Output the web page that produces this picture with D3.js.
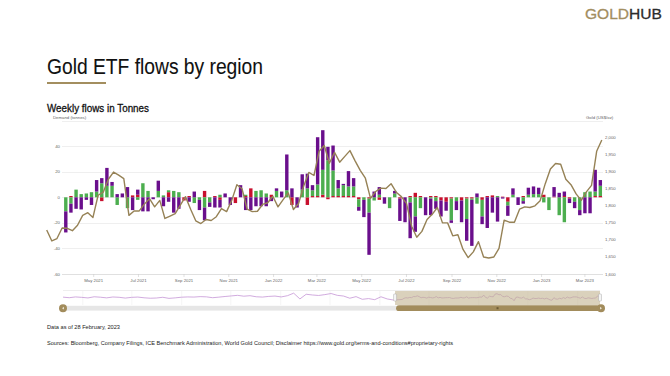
<!DOCTYPE html>
<html><head><meta charset="utf-8">
<script src="https://cdn.jsdelivr.net/npm/d3@7"></script>
<style>body{margin:0;background:#fff}svg{display:block}text{font-family:"Liberation Sans",Arial,sans-serif}</style>
</head><body>
<svg id="c" width="670" height="376"></svg>
<script>
// ---- data (weekly ETF flows, tonnes) ----
const northAmerica = [-16.5,-7,-9,-9.5,-2,-6,9,4,14,3, 2.5,3,8,-10,4,-11,-11,-1.5,8,-7, -3.5,-12,-9,0,-3.5,4.5,-8,-10,-3.5,-8, -6,3,-6,0,9.5,-10,-10,-7,-7,-7, -3,2,4.5,28,7,-8,12,11.5,4,37, 31,10.5,19.5,6.5,1,12,6.5,-3,-13.5,-33, 4.5,6,-5,0,2,-17.5,-19.5,-28,-12,0, -14,-13,-6,-12.5,-7,-2,-7,-17,-17,-36, 3,-6,-24,-12,-19,-1,-8,5,-6,-2, 5.5,6,5,0,0,7.5,3.5,3.5,-3.5,-5, -4,-12.5,-12.5,17,4.5];
const europe = [-11,-5,6,2.5,3,4,4.5,11,9,9, -6,0,-8.5,0,-2,11,5,0,5,1.5, 1.5,5,4,0,0,-4.5,-2,-8,-4,0, 2,0,0,0,0,1,0,5,5.5,3, 0,5,0,5.5,0,0,6,7,4.5,9, 19.5,29,20,6,8.5,7.5,7.5,-6,-2,-11, -2.5,2,0,-8.5,3,0,0,-4,-15,-8.5, 0,-1,-3,0,0,-17,-3,0,-16,-1, -5,-13,0,0,1,0,-3,2,0,-3, 2,2.5,2.5,-4,-10,0,-14,-19.5,0,-3.5, -10,4,4.5,3.5,8];
const asia = [0,1,0,0,0,0,0,-3,0,0, 0,0,0,1.5,2,0,0,0,0,0, 4,0,0,-2.5,1,0,0,5,0,1, -2,0,0,-4.5,0,1,7,0,0,0, 2,0,0,0,-6,0,0,-6,1,1, 2,-1.5,1,1,1,1,1,-1.5,0,-1, 0,-2,0,0,0,-1,0,1,3.5,1, 0,1,1,-2.5,-3.5,-1,0,-2.5,-1,-1, 0,-2,1,1.5,0,0.5,-3.5,0,0,1, 0,0,0,2,0,0.5,0,1,-1,0, 0,0,0,1,1];
// gold price, US$/oz, weekly from 26 Feb 2021
const goldPrice = [1729,1697,1704,1735,1734,1727,1743,1772,1780,1766, 1831,1840,1878,1899,1890,1880,1772,1785,1785,1805, 1821,1797,1816,1763,1770,1777,1802,1827,1790,1756, 1748,1760,1757,1768,1792,1783,1816,1862,1850,1790, 1783,1784,1804,1809,1828,1797,1818,1838,1789,1807, 1858,1898,1889,1960,1977,1925,1957,1928,1945,1962, 1932,1904,1881,1822,1842,1852,1851,1865,1840,1827, 1807,1740,1708,1725,1760,1775,1795,1750,1750,1712, 1715,1672,1648,1665,1695,1650,1647,1650,1675,1758, 1752,1752,1790,1797,1795,1800,1815,1865,1908,1924, 1922,1878,1862,1835,1816,1841,1860,1960,1993];
// navigator history (total flows, tonnes) Oct 2017 - Feb 2021
const navHistory = [5,-3,8,2,-6, 10,4,-5,7,3,-8,2,6,-4,-10,-7,3,-12,-5,4,8,6,12, 9,-3,5,14,22,30,18,25,10,6,15,20,8, 25,60,-20,45,35,28,40,55,30,20,-10,12,-25,-15,-30,10, -20,-35];
const leftTicks = [-60,-40,-20,0,20,40];
const gridTicks = [-60,-40,-20,0,20,40,60];
const rightTicks = [1600,1650,1700,1750,1800,1850,1900,1950,2000];
const xTickLabels = ["May 2021","Jul 2021","Sep 2021","Nov 2021","Jan 2022","Mar 2022","May 2022","Jul 2022","Sep 2022","Nov 2022","Jan 2023","Mar 2023"];
const seriesNames = ["Asia","Europe","North America"];
const seriesColors = ["#c8102e","#4cae4f","#6a0f8c"];

const svg = d3.select("#c");
const gold = "#a38e5f";

// header
svg.append("text").attr("x",585).attr("y",19).attr("font-family","Lato, 'Open Sans', sans-serif").attr("font-size",15.5).attr("font-weight",400)
  .attr("stroke-width",0.3).attr("textLength",77).attr("lengthAdjust","spacingAndGlyphs")
  .call(t=>{t.append("tspan").attr("fill",gold).attr("stroke",gold).text("GOLD");t.append("tspan").attr("fill","#2b2b2b").attr("stroke","#2b2b2b").text("HUB");});
svg.append("text").attr("x",47).attr("y",74).attr("font-size",22).attr("fill","#111").attr("stroke","#111").attr("stroke-width",0.1).attr("textLength",216).attr("lengthAdjust","spacingAndGlyphs").text("Gold ETF flows by region");
svg.append("rect").attr("x",47).attr("y",82).attr("width",59).attr("height",2).attr("fill",gold);
svg.append("text").attr("x",47).attr("y",112).attr("font-size",11).attr("fill","#111").attr("stroke","#111").attr("stroke-width",0.3).attr("textLength",102).attr("lengthAdjust","spacingAndGlyphs").text("Weekly flows in Tonnes");
svg.append("text").attr("x",53).attr("y",118.5).attr("font-size",4.3).attr("fill","#666").text("Demand (tonnes)");
svg.append("text").attr("x",586).attr("y",118.5).attr("font-size",4.3).attr("fill","#666").text("Gold (US$/oz)");

// scales
const lineStart = new Date(2021,1,26), barStart = new Date(2021,2,24);
const lineDates = goldPrice.map((_,i)=>d3.timeDay.offset(lineStart,7*i));
const barDates = northAmerica.map((_,i)=>d3.timeDay.offset(barStart,7*i));
const x = d3.scaleTime().domain([lineStart, lineDates[lineDates.length-1]]).range([46.7,601.8]);
const yL = d3.scaleLinear().domain([-60,60]).range([274,120.6]);
const yR = d3.scaleLinear().domain([1600,2050]).range([274,120.6]);

// grid
svg.append("g").selectAll("line").data(gridTicks).join("line")
  .attr("x1",62).attr("x2",603).attr("y1",d=>Math.round(yL(d))+0.5).attr("y2",d=>Math.round(yL(d))+0.5)
  .attr("stroke",d=>d===-60?"#d8d8d8":"#ebebeb").attr("stroke-width",0.8);
svg.append("g").selectAll("text").data(leftTicks).join("text")
  .attr("x",60).attr("y",d=>yL(d)).attr("dy","0.35em").attr("text-anchor","end").attr("font-size",4.3).attr("fill","#666").text(d=>d);
svg.append("g").selectAll("text").data(rightTicks).join("text")
  .attr("x",605).attr("y",d=>yR(d)).attr("dy","0.35em").attr("font-size",4.3).attr("fill","#666").text(d=>d3.format(",")(d));
const xTickDates = xTickLabels.map(s=>d3.timeParse("%b %Y")(s));
const xg = svg.append("g");
xg.selectAll("line").data(xTickDates).join("line").attr("x1",d=>x(d)).attr("x2",d=>x(d)).attr("y1",274).attr("y2",277).attr("stroke","#ccc").attr("stroke-width",0.6);
xg.selectAll("text").data(xTickDates).join("text").attr("x",d=>x(d)).attr("y",281.5).attr("text-anchor","middle").attr("font-size",4.3).attr("fill","#666").text((d,i)=>xTickLabels[i]);

// bars
const rows = barDates.map((d,i)=>({date:d, Asia:asia[i], Europe:europe[i], "North America":northAmerica[i]}));
const stacked = d3.stack().keys(seriesNames).offset(d3.stackOffsetDiverging)(rows);
const bw = 3.4;
svg.append("g").selectAll("g").data(stacked).join("g").attr("fill",(d,i)=>seriesColors[i])
  .selectAll("rect").data(d=>d).join("rect")
  .attr("x",d=>x(d.data.date)-bw/2).attr("width",bw)
  .attr("y",d=>yL(Math.max(d[0],d[1]))).attr("height",d=>Math.abs(yL(d[0])-yL(d[1])));

// gold line
svg.append("path").datum(goldPrice).attr("fill","none").attr("stroke","#968256").attr("stroke-width",1.4).attr("stroke-linejoin","round")
  .attr("d",d3.line().x((d,i)=>x(lineDates[i])).y(d=>yR(d)));

// navigator
const navStart = new Date(2017,9,20);
const navDates = navHistory.map((_,i)=>d3.timeDay.offset(navStart,23*i));
const totals = rows.map(r=>r.Asia+r.Europe+r["North America"]);
const navData = navHistory.map((v,i)=>[navDates[i],v]).concat(totals.map((v,i)=>[barDates[i],v]));
const xN = d3.scaleTime().domain([navStart, lineDates[lineDates.length-1]]).range([63,600]);
const yN = d3.scaleLinear().domain([-90,90]).range([304,291]);
const nav = svg.append("g");
nav.append("line").attr("x1",63).attr("x2",600).attr("y1",290.5).attr("y2",290.5).attr("stroke","#e3e3e3").attr("stroke-width",0.6);
const navGrid = d3.timeMonth.every(6).range(new Date(2018,0,1), new Date(2023,3,1));
nav.selectAll("line.g").data(navGrid).join("line").attr("class","g").attr("x1",d=>xN(d)).attr("x2",d=>xN(d)).attr("y1",291).attr("y2",305).attr("stroke","#eeeeee").attr("stroke-width",0.6);
nav.append("path").datum(navData).attr("fill","none").attr("stroke","#c596d6").attr("stroke-width",0.8)
  .attr("d",d3.line().x(d=>xN(d[0])).y(d=>yN(d[1])));
nav.append("rect").attr("x",xN(lineStart)).attr("y",291).attr("width",600-xN(lineStart)).attr("height",14).attr("fill","#c2b290").attr("opacity",0.6);
[xN(lineStart),600].forEach(hx=>nav.append("rect").attr("x",hx-1.5).attr("y",294).attr("width",3).attr("height",7).attr("rx",0.8).attr("fill","#f4f4f4").attr("stroke","#999").attr("stroke-width",0.4));
// scrollbar
nav.append("rect").attr("x",63).attr("y",305.8).attr("width",538).attr("height",4.8).attr("fill","#e6e6e6");
nav.append("rect").attr("x",xN(lineStart)+1).attr("y",305.3).attr("width",600-xN(lineStart)-1).attr("height",5.8).attr("rx",2.9).attr("fill","#a28c5c");
nav.append("rect").attr("x",(xN(lineStart)+600)/2-1).attr("y",307.2).attr("width",2).attr("height",2).attr("fill","#6b5a35");
[[63,-1],[601,1]].forEach(([cx,dir])=>{
  nav.append("circle").attr("cx",cx).attr("cy",308.2).attr("r",4).attr("fill","#a28c5c");
  nav.append("path").attr("d",`M${cx-dir*1},${306.8}L${cx+dir*1},${308.2}L${cx-dir*1},${309.6}Z`).attr("fill","#e9e2d0");
});

// footer
svg.append("text").attr("x",47).attr("y",328.5).attr("font-size",5.8).attr("fill","#222").attr("textLength",73).attr("lengthAdjust","spacingAndGlyphs").text("Data as of 28 February, 2023");
svg.append("text").attr("x",47).attr("y",344.5).attr("font-size",5.8).attr("fill","#222").attr("textLength",406).attr("lengthAdjust","spacingAndGlyphs").text("Sources: Bloomberg, Company Filings, ICE Benchmark Administration, World Gold Council; Disclaimer https://www.gold.org/terms-and-conditions#proprietary-rights");
</script></body></html>
